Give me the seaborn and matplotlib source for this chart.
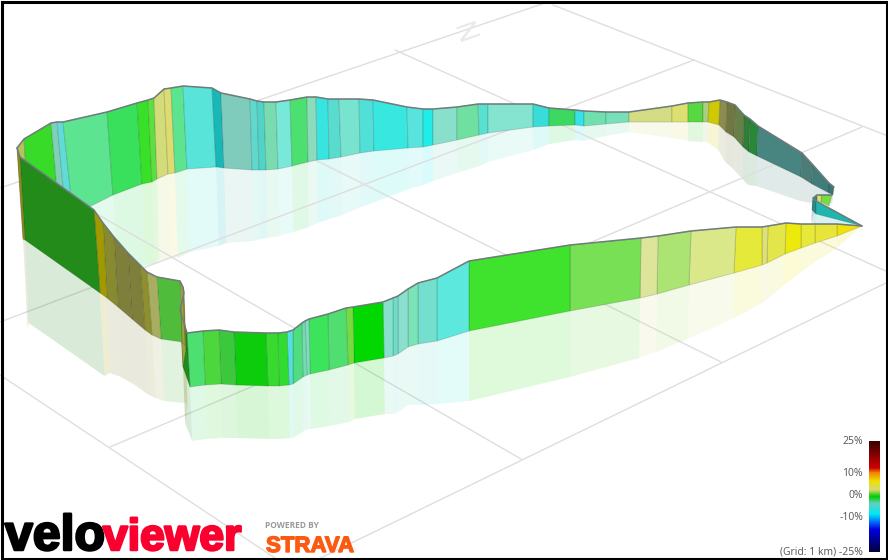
import matplotlib
matplotlib.use("Agg")
import matplotlib.pyplot as plt
import matplotlib.patheffects as pe
from matplotlib.colors import LinearSegmentedColormap
from matplotlib.patches import Rectangle
import numpy as np
import pandas as pd
import seaborn as sns

# everything in image pixels (x right, y down)
# front wall, from the tip at the right going left
front_top_x = [862, 837, 815, 801, 786, 768, 762, 736, 691, 658, 641, 570, 469, 437, 418, 408, 398, 393, 383, 353, 346, 328, 309, 305, 302, 293, 287, 278, 266, 234, 219, 203, 187, 180, 184, 183, 180, 157, 147, 140, 128, 114, 103, 94, 20, 17]
front_top_y = [226, 224, 224, 224, 223, 226, 227, 227, 231, 236, 238, 245, 261, 278, 283, 289, 296, 298, 302, 307, 308, 314, 319, 321, 323, 330, 332, 333, 333, 332, 330, 331, 333, 310, 293, 287, 281, 277, 272, 265, 253, 237, 223, 210, 157, 148]
front_base_x = [862, 837, 815, 801, 785, 767, 762, 734, 689, 657, 640, 570, 469, 437, 418, 408, 398, 393, 384, 354, 348, 329, 310, 307, 303, 293, 289, 279, 268, 236, 221, 205, 190, 183, 186, 185, 182, 161, 152, 145, 132, 118, 107, 100, 25, 23]
front_base_y = [226, 236, 243, 248, 254, 263, 265, 273, 285, 294, 298, 311, 331, 341, 344, 347, 354, 356, 358, 363, 365, 370, 374, 375, 377, 384, 385, 386, 386, 385, 384, 385, 387, 367, 350, 345, 342, 339, 335, 330, 319, 307, 298, 293, 240, 238]
front_colors = ["#EFE20C", "#E8E53A", "#E6E83A", "#EEE90C", "#E3E64A", "#DDE176", "#E4E93A", "#DAE88A", "#ABE473", "#DDE59A",
                "#78E054", "#3FE22C", "#5CE8DC", "#74DECF", "#7BE3B8", "#8ADFCE", "#70DDC6", "#86E0CC", "#00D800", "#74DC40",
                "#50DE70", "#3CE45C", "#80DCC0", "#70DFB0", "#50DC80", "#55DEE0", "#30DC30", "#38DA30", "#0CCC0C", "#3CC83C",
                "#4CD83C", "#4CE070", "#1C8C1C", "#A0A040", "#A0A040", "#A0A040", "#50BC3C", "#A8AE60", "#8E9030", "#7F7F3C",
                "#7F7F3C", "#888A30", "#A09A00", "#228B1A", "#8C8C20"]

# back wall, from the left corner going right
back_top_x = [17, 24, 51, 57, 63, 107, 137, 148, 154, 164, 171, 183, 212, 221, 250, 257, 264, 276, 290, 307, 316, 328, 339, 359, 373, 407, 423, 433, 457, 478, 488, 533, 549, 575, 584, 606, 629, 672, 688, 703, 709, 720, 727, 735, 744, 750, 758, 802, 813, 829, 834]
back_top_y = [148, 139, 123, 122, 122, 112, 103, 100, 98, 89, 88, 86, 88, 93, 99, 101, 102, 102, 100, 97, 97, 99, 99, 99, 100, 107, 109, 109, 107, 104, 104, 104, 108, 110, 111, 112, 112, 106, 103, 102, 102, 100, 102, 105, 115, 119, 126, 153, 165, 183, 187]
back_base_x = [23, 30, 60, 66, 73, 113, 142, 152, 157, 168, 175, 187, 216, 224, 252, 259, 266, 278, 292, 308, 317, 329, 341, 360, 374, 408, 423, 433, 457, 479, 488, 533, 549, 575, 584, 606, 629, 672, 688, 703, 708, 719, 726, 734, 743, 749, 757, 801, 812, 829, 833]
back_base_y = [240, 237, 222, 218, 215, 195, 184, 182, 179, 174, 173, 169, 167, 168, 170, 170, 170, 169, 166, 162, 160, 159, 157, 153, 151, 148, 147, 145, 140, 135, 133, 127, 126, 125, 126, 124, 122, 122, 122, 122, 122, 125, 132, 137, 147, 152, 156, 177, 184, 193, 195]
back_colors = ["#B8C060", "#38DC28", "#80D0B8", "#60DCD8", "#5CE490", "#38E05C", "#38E028", "#5CE040", "#D2DC78", "#DCDC70",
               "#5CE490", "#58E4D8", "#18B8B8", "#80CCBC", "#60D8CC", "#50D4C8", "#78DCB0", "#78E8D8", "#4CE070", "#8CDCBC",
               "#38E4E0", "#58DCD0", "#78E4D0", "#50E0D8", "#38E8E0", "#58E4DC", "#20ECE8", "#88E0CC", "#70E0A0", "#58E0D0",
               "#84E4D0", "#38DCD8", "#3CD860", "#38E0E8", "#70E0B0", "#78E0B8", "#D4DC84", "#DCE070", "#58D840", "#A8D080",
               "#D0C800", "#8C8C50", "#707840", "#668048", "#307C38", "#288838", "#488480", "#4C7C78", "#407C78", "#387878"]

# the small hairpin next to the tip
hair_top_x = [832, 821, 817, 813, 816, 862]
hair_top_y = [195, 195, 195, 198, 201, 226]
hair_base_x = [829, 821, 817, 812, 816, 862]
hair_base_y = [206, 202, 200, 210, 214, 226]
hair_colors = ["#78DC40", "#E0E070", "#2A8C88", "#2A8C88", "#20B5AE"]

# ground grid, one start and end per line
grid_x0 = [0, 0, 110, 395, 553, 33, 221, 0, 300]
grid_y0 = [188, 322, 447, 50, 5, 177, 113, 375, 568]
grid_x1 = [545, 694, 862, 888, 888, 521, 721, 275, 888]
grid_y1 = [3, 60, 127, 272, 136, 459, 362, 558, 282]

# gradient legend, bottom to top
legend_grades = [-25, -15, -11, -8, -3, 0, 3, 7, 11, 13, 25]
legend_colors = ["#000040", "#0000E0", "#0080FF", "#00E8F0", "#60D0C0", "#00CC00", "#D8D870", "#EEE000", "#F08000", "#D00000", "#3C0000"]
legend_ticks = ["25%", "10%", "0%", "-10%", "(Grid: 1 km) -25%"]
legend_tick_y = [441, 474, 496, 518, 552]

sns.set_theme(style="white")
plt.rcParams["font.family"] = ["Open Sans", "DejaVu Sans"]

fig = plt.figure(figsize=(8.88, 5.6), dpi=100)
ax = fig.add_axes([0, 0, 1, 1])
ax.set_xlim(0, 888)
ax.set_ylim(560, 0)
ax.axis("off")


def strips(tx, ty, bx, by):
    return [[(tx[i], ty[i]), (tx[i + 1], ty[i + 1]), (bx[i + 1], by[i + 1]), (bx[i], by[i])] for i in range(len(tx) - 1)]


def mirror(tx, ty, bx, by):
    rx = [b + (b - t) * 0.75 for t, b in zip(tx, bx)]
    ry = [b + (b - t) * 1.0 for t, b in zip(ty, by)]
    return strips(bx, by, rx, ry)


def fill_all(polys, colors, **kw):
    for poly, c in zip(polys, colors):
        xs, ys = zip(*poly)
        ax.fill(xs, ys, color=c, **kw)


# reflections on the ground, the front ones hide what lies behind them
# the first back strips sit behind the front wall and its reflection
fill_all(mirror(back_top_x, back_top_y, back_base_x, back_base_y)[4:], back_colors[4:], alpha=0.17, lw=0, zorder=1)
fill_all(mirror(hair_top_x, hair_top_y, hair_base_x, hair_base_y), hair_colors, alpha=0.17, lw=0, zorder=1)
front_mirror = mirror(front_top_x, front_top_y, front_base_x, front_base_y)
fill_all(front_mirror, ["white"] * len(front_mirror), lw=0.5, zorder=2)

grid = pd.DataFrame({
    "x": grid_x0 + grid_x1,
    "y": grid_y0 + grid_y1,
    "line": list(range(len(grid_x0))) * 2,
})
sns.lineplot(data=grid, x="x", y="y", units="line", estimator=None, sort=False,
             color="#DEDEDE", lw=1.0, zorder=3, ax=ax, legend=False)

fill_all(front_mirror, front_colors, alpha=0.17, lw=0, zorder=4)

# coloured walls
edge = (0, 0, 0, 0.14)
for n, (tx, ty, bx, by, cols) in enumerate([
        (back_top_x, back_top_y, back_base_x, back_base_y, back_colors),
        (hair_top_x, hair_top_y, hair_base_x, hair_base_y, hair_colors),
        (front_top_x, front_top_y, front_base_x, front_base_y, front_colors)]):
    for poly, c in zip(strips(tx, ty, bx, by), cols):
        xs, ys = zip(*poly)
        ax.fill(xs, ys, facecolor=c, edgecolor=edge, lw=0.7, zorder=5 + n)
    ridge = pd.DataFrame({"x": tx, "y": ty})
    sns.lineplot(data=ridge, x="x", y="y", estimator=None, sort=False,
                 color="#707C7C", lw=1.1, zorder=5 + n, ax=ax, legend=False)

# faint north marker on the grid
ax.text(462, 34, "N", color="#E8E8E8", fontsize=20, rotation=-71, ha="center", va="center", zorder=3)

# gradient legend
cmap = LinearSegmentedColormap.from_list(
    "grade", [((g + 25) / 50, c) for g, c in zip(legend_grades, legend_colors)])
cax = fig.add_axes([869 / 888, 1 - 552 / 560, 11 / 888, 111 / 560])
sns.heatmap(np.linspace(25, -25, 111).reshape(-1, 1), cmap=cmap, vmin=-25, vmax=25, cbar=False,
            xticklabels=False, yticklabels=False, ax=cax)
for label, y in zip(legend_ticks, legend_tick_y):
    ax.text(863, y, label, color="#555555", fontsize=7.5, ha="right", va="center")

# logos
logo_font = ["Liberation Sans Narrow", "Liberation Sans"]
stroke = [pe.withStroke(linewidth=1.8, foreground="black")]
ax.text(5, 550, "velo", color="black", fontsize=36, fontweight="bold",
        family=logo_font, ha="left", va="baseline", path_effects=stroke, zorder=9)
stroke = [pe.withStroke(linewidth=1.8, foreground="#F9002F")]
ax.text(103, 550, "viewer", color="#F9002F", fontsize=32, fontweight="bold",
        family=logo_font, ha="left", va="baseline", path_effects=stroke, zorder=9)
ax.text(265, 526, "POWERED BY", color="#999999", fontsize=6, fontweight="bold", ha="left", va="center", zorder=9)
stroke = [pe.withStroke(linewidth=1.0, foreground="#FC5A12")]
ax.text(266, 552, "STRAVA", color="#FC5A12", fontsize=16, fontweight="bold",
        family=logo_font, ha="left", va="baseline", path_effects=stroke, zorder=9)

# black picture frame
ax.add_patch(Rectangle((1.5, 1.5), 885, 557, fill=False, edgecolor="black", lw=2.2, zorder=10))

fig.savefig("out.png", dpi=100)
